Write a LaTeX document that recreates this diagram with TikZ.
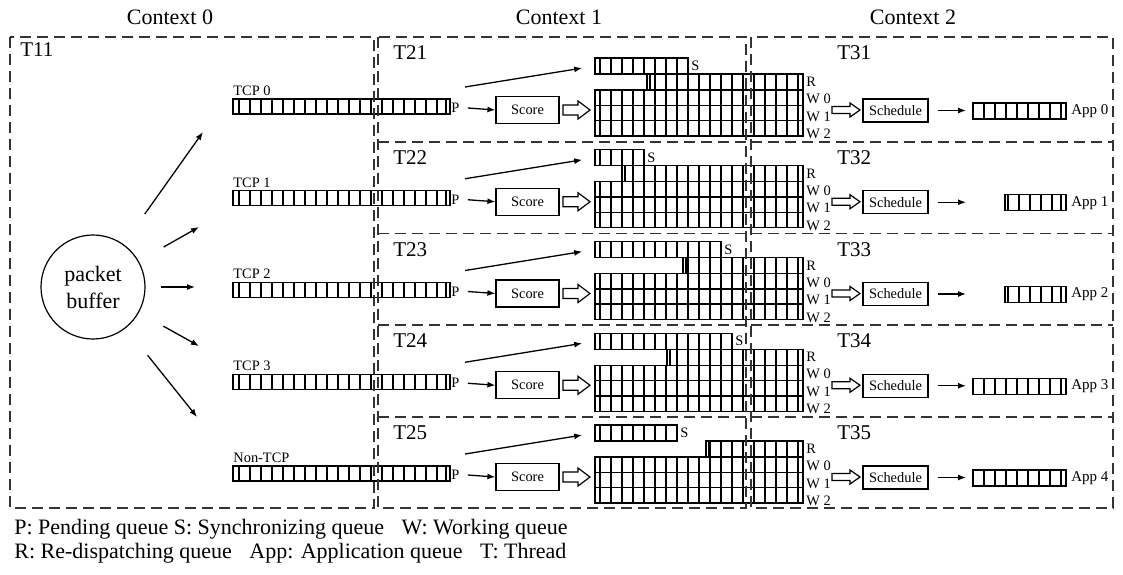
\documentclass[tikz,border=0pt]{standalone}
\usepackage{fontspec}
\setmainfont{Liberation Serif}
\usetikzlibrary{arrows.meta}

\tikzset{
  ctxline/.style={line width=0.9pt, dash pattern=on 5.5pt off 3pt, black!80},
  cell/.style={line width=0.7pt},
  flow/.style={line width=0.65pt, -{Latex[length=4pt,width=3pt]}},
  smalltxt/.style={font=\fontsize{7.2}{8}\selectfont, inner sep=0pt},
  bigtxt/.style={font=\fontsize{11}{13.5}\selectfont, inner sep=0pt},
  tlbl/.style={font=\fontsize{10.5}{12}\selectfont, inner sep=0pt, anchor=west},
  procbox/.style={draw, line width=0.6pt, inner sep=0pt, font=\fontsize{7.2}{8}\selectfont},
  fatarrow/.style={draw, line width=0.6pt, fill=white, line join=miter},
}

% queue with cells: x0, y0, x1, y1, cell lines
\newcommand{\cellq}[5]{%
  \draw[cell] (#1,#2) rectangle (#3,#4);
  \foreach \cx in {#5} \draw[cell] (\cx,#2) -- (\cx,#4);
}

\begin{document}
\begin{tikzpicture}[x=0.5pt, y=-0.5pt]
\useasboundingbox (0,0) rectangle (1123,574);

% contexts
\node[bigtxt] (ctx0) at (170,17) {Context 0};
\node[bigtxt] (ctx1) at (559,17) {Context 1};
\node[bigtxt] (ctx2) at (913,17) {Context 2};

% packet buffer and dispatch arrows
\node[draw, circle, bigtxt, minimum size=52pt, line width=0.6pt, align=center] (buf) at (93,287) {packet\\buffer};
\foreach \k/\hx/\hy/\sh in {1/203/132/18.4, 2/199/227/14.3, 3/195/287/7.5, 4/199/346/14, 5/197/417/17.4}{
  \coordinate (fh\k) at (\hx,\hy);
  \draw[flow, shorten <=\sh pt] (buf) -- (fh\k);
}

% thread labels
\node[tlbl] (t11) at (20,50) {T11};
\foreach \i/\y in {1/53, 2/158, 3/250, 4/341, 5/433}{
  \node[tlbl] (t2\i) at (393,\y) {T2\i};
  \node[tlbl] (t3\i) at (837,\y) {T3\i};
}

% one row per queue
\foreach \i/\b/\tq/\xs/\xr/\ax/\al in {0/58/TCP 0/688/647/973/984, 1/149.75/TCP 1/644/622/1005/1008, 2/241.5/TCP 2/721/683/1005/1008, 3/333.25/TCP 3/732/667/973/984, 4/425/Non-TCP/677/706/973/984}{
  \pgfmathsetmacro{\se}{\xs-3}
  \pgfmathsetmacro{\rs}{600+11*ceil((\xr+2-600)/11)}
  \pgfmathsetmacro{\rt}{\rs+11}
  \pgfmathsetmacro{\alb}{\al+11}
  % pending queue
  \node[smalltxt, anchor=south west] (q\i) at (233,\b+38) {\tq};
  \cellq{233}{\b+41}{450}{\b+56}{239,250,...,437}
  \draw[cell] (446,\b+41) -- (446,\b+56);
  \node[smalltxt, anchor=west] (p\i) at (451,\b+50) {P};
  \node[procbox, minimum width=31.5pt, minimum height=13.5pt] (sc\i) at (527.5,\b+52) {Score};
  \draw[flow] (p\i.east) ++(4pt,0) -- (sc\i.west);
  % to synchronizing queue
  \coordinate (d\i) at (465,\b+29);
  \coordinate (sq\i) at (595,\b+8);
  \draw[flow, shorten >=6.5pt] (d\i) -- (sq\i);
  \draw[fatarrow] (563,\b+47) -- (578,\b+47) -- (578,\b+43) -- (590,\b+52) -- (578,\b+61) -- (578,\b+57) -- (563,\b+57) -- cycle;
  % S, R and W queues
  \cellq{595}{\b}{\xs}{\b+16}{600,611,...,\se}
  \node[smalltxt, anchor=west] (s\i) at (\xs+3,\b+8) {S};
  \cellq{\xr}{\b+16}{803}{\b+32}{\rs,\rt,...,798}
  \draw[cell] (\xr+3,\b+16) -- (\xr+3,\b+32);
  \cellq{595}{\b+32}{803}{\b+78}{600,611,...,798}
  \draw[cell] (595,\b+47.33) -- (803,\b+47.33);
  \draw[cell] (595,\b+62.67) -- (803,\b+62.67);
  \node[smalltxt, anchor=west] (r\i) at (806,\b+24) {R};
  \node[smalltxt, anchor=west] (wa\i) at (806,\b+41) {W 0};
  \node[smalltxt, anchor=west] (wb\i) at (806,\b+58.5) {W 1};
  \node[smalltxt, anchor=west] (wc\i) at (806,\b+76) {W 2};
  % scheduling to application
  \draw[fatarrow] (832,\b+48.5) -- (850,\b+48.5) -- (850,\b+45) -- (860,\b+52) -- (850,\b+59) -- (850,\b+55.5) -- (832,\b+55.5) -- cycle;
  \node[procbox, minimum width=32.5pt, minimum height=11.5pt] (sd\i) at (895.5,\b+52.5) {Schedule};
  \coordinate (ae\i) at (966,\b+52.5);
  \draw[flow] (sd\i.east) ++(4.5pt,0) -- (ae\i);
  \cellq{\ax}{\b+45}{1066}{\b+61}{\al,\alb,...,1056}
  \draw[cell] (1061,\b+45) -- (1061,\b+61);
  \node[smalltxt, anchor=west, font=\fontsize{7.5}{8}\selectfont] (app\i) at (1071,\b+53) {App \i};
}

% context borders
\draw[ctxline] (10,37) rectangle (374,508);
\draw[ctxline] (378,37) rectangle (746,508);
\draw[ctxline] (751,37) rectangle (1113,508);
\foreach \s in {141.75,233.5,325.25,417}{
  \draw[ctxline] (378,\s) -- (746,\s);
  \draw[ctxline] (751,\s) -- (1113,\s);
}

% legend
\node[bigtxt, anchor=west] (leg1) at (14,529) {P: Pending queue S: Synchronizing queue\hspace{6pt} W: Working queue};
\node[bigtxt, anchor=west] (leg2) at (14,553) {R: Re-dispatching queue\hspace{6pt} App: Application queue\hspace{6pt} T: Thread};
\end{tikzpicture}
\end{document}
